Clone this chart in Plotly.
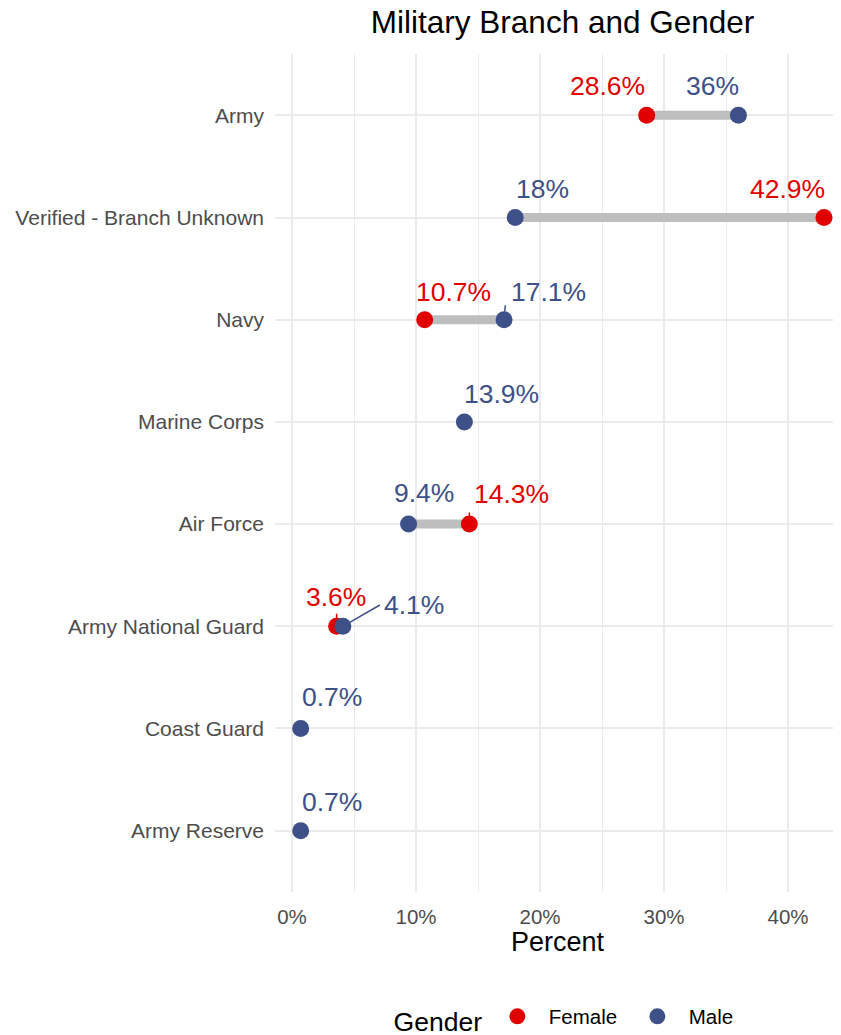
import plotly.graph_objects as go

categories = ["Army", "Verified - Branch Unknown", "Navy", "Marine Corps",
              "Air Force", "Army National Guard", "Coast Guard", "Army Reserve"]
female = [28.6, 42.9, 10.7, None, 14.3, 3.6, None, None]
male = [36.0, 18.0, 17.1, 13.9, 9.4, 4.1, 0.7, 0.7]
female_labels = ["28.6%", "42.9%", "10.7%", None, "14.3%", "3.6%", None, None]
male_labels = ["36%", "18%", "17.1%", "13.9%", "9.4%", "4.1%", "0.7%", "0.7%"]
x_ticks = [0, 10, 20, 30, 40]
x_tick_labels = ["0%", "10%", "20%", "30%", "40%"]

RED = "#E00000"
BLUE = "#3E5088"
FONT = "Liberation Sans, Arial, sans-serif"

fig = go.Figure()

# connecting segments
for cat, f, m in zip(categories, female, male):
    if f is not None and m is not None:
        fig.add_trace(go.Scatter(x=[f, m], y=[cat, cat], mode="lines",
                                 line=dict(color="#BEBEBE", width=9),
                                 showlegend=False, hoverinfo="skip"))

fx = [f for f in female if f is not None]
fy = [c for c, f in zip(categories, female) if f is not None]
fig.add_trace(go.Scatter(x=fx, y=fy, mode="markers", name="  Female",
                         marker=dict(color=RED, size=17)))
fig.add_trace(go.Scatter(x=male, y=categories, mode="markers", name="  Male",
                         marker=dict(color=BLUE, size=17)))

# label offsets (pixels) relative to each point: (dx, dy, segment)
female_off = {
    "Army": (-39, -29, None),
    "Verified - Branch Unknown": (-37, -29, None),
    "Navy": (29, -28, None),
    "Air Force": (42, -30, (0, -20)),
    "Army National Guard": (-1, -29, (0, -21)),
}
male_off = {
    "Army": (-26, -29, None),
    "Verified - Branch Unknown": (27, -29, None),
    "Navy": (44, -28, (2, -23)),
    "Marine Corps": (37, -28, None),
    "Air Force": (15, -31, None),
    "Army National Guard": (71, -21, (40, -23)),
    "Coast Guard": (31, -31, None),
    "Army Reserve": (31, -29, None),
}

def add_labels(vals, labels, offs, color):
    for cat, v, lab in zip(categories, vals, labels):
        if v is None:
            continue
        dx, dy, seg = offs[cat]
        fig.add_annotation(x=v, y=cat, text=lab, showarrow=False,
                           xshift=dx, yshift=-dy,
                           font=dict(size=26.5, color=color, family=FONT))
        if seg is not None:
            fig.add_annotation(x=v, y=cat, text=" ", showarrow=True,
                               arrowhead=0, arrowwidth=1.5, arrowcolor=color,
                               ax=seg[0], ay=seg[1], standoff=8)

add_labels(female, female_labels, female_off, RED)
add_labels(male, male_labels, male_off, BLUE)

GRID = "#EBEBEB"
W, H = 833, 1027
fig.update_layout(
    width=W, height=H,
    margin=dict(l=267, r=1, t=46, b=143),
    plot_bgcolor="white", paper_bgcolor="white",
    font=dict(family=FONT),
    title=dict(text="Military Branch and Gender", xref="paper", x=0.509,
               xanchor="center", y=1 - 3 / H, yanchor="top", yref="container",
               pad=dict(t=0, b=0),
               font=dict(size=31.5, color="black", family=FONT)),
    xaxis=dict(range=[-1.37, 44.19], tickvals=x_ticks, ticktext=x_tick_labels,
               showgrid=True, gridcolor=GRID, gridwidth=1.5, zeroline=False,
               showline=False, ticks="", ticklabelstandoff=10,
               tickfont=dict(size=20.5, color="#4D4D4D"),
               minor=dict(dtick=5, tick0=0, showgrid=True, gridcolor=GRID, gridwidth=1),
               title=dict(text="Percent", font=dict(size=27, color="black"), standoff=4)),
    yaxis=dict(categoryorder="array", categoryarray=categories[::-1],
               range=[-0.6, 7.6], showgrid=True, gridcolor=GRID, gridwidth=1.5,
               zeroline=False, showline=False, ticks="",
               ticklabelstandoff=10,
               tickfont=dict(size=21, color="#4D4D4D")),
    legend=dict(orientation="h", x=0.548, xanchor="center", yref="container",
                y=16 / H, yanchor="middle", entrywidth=95,
                title=dict(text="Gender ", font=dict(size=26.5, color="black")),
                font=dict(size=20.5, color="black")),
)

fig.write_html("out.html")
